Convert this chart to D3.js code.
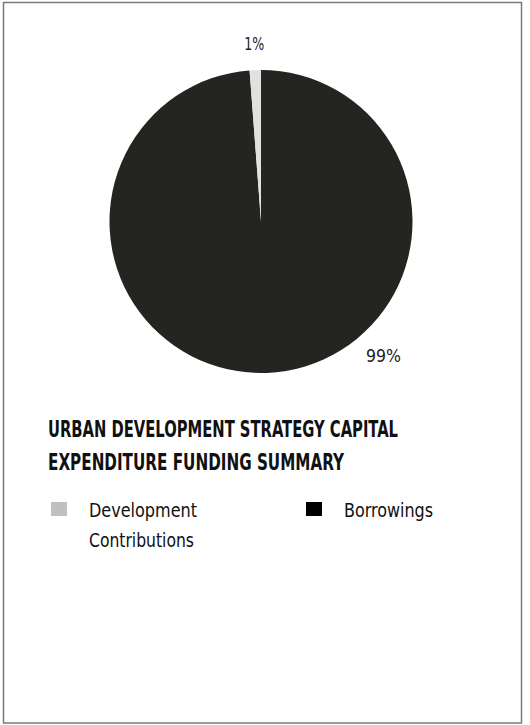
<!DOCTYPE html>
<html>
<head>
<meta charset="utf-8">
<script src="https://cdn.jsdelivr.net/npm/d3@7"></script>
<style>
  html, body { margin: 0; padding: 0; background: #fff; }
  svg { display: block; }
  text { font-family: 'DejaVu Sans Condensed', 'DejaVu Sans', sans-serif; font-stretch: condensed; }
</style>
</head>
<body>
<svg id="chart" width="530" height="725"></svg>
<script>
// ---- data ----
const categories = ["Borrowings", "Development Contributions"];
const values = [98.8, 1.2];
const valueLabels = ["99%", "1%"];
const legendOrder = ["Development Contributions", "Borrowings"];
const legendLabels = [["Development", "Contributions"], ["Borrowings"]];
const titleLines = ["URBAN DEVELOPMENT STRATEGY CAPITAL", "EXPENDITURE FUNDING SUMMARY"];

// ---- styles / layout ----
const sliceColors = { "Borrowings": "#242420", "Development Contributions": "#e1e1e1" };
const legendColors = { "Borrowings": "#000000", "Development Contributions": "#c0c0c0" };
const labelAngleOffset = { "Borrowings": -0.70, "Development Contributions": 0 };
const labelR = { "Borrowings": 182, "Development Contributions": 178 };
const labelWidth = { "Borrowings": 35, "Development Contributions": 20 };
const titleWidths = [350, 296];
const legendWidths = { "Development": 108, "Contributions": 105, "Borrowings": 89 };

const svg = d3.select("#chart");

svg.append("rect")
  .attr("x", 3.5).attr("y", 2.5)
  .attr("width", 518).attr("height", 720.5)
  .attr("fill", "none").attr("stroke", "#7a7a7a").attr("stroke-width", 1.5);

const cx = 261, cy = 221.5, radius = 151.5;

const data = categories.map((c, i) => ({ cat: c, value: values[i], label: valueLabels[i] }));
const pie = d3.pie().sort(null).value(d => d.value);
const arc = d3.arc().innerRadius(0).outerRadius(radius);
const arcs = pie(data);

const g = svg.append("g").attr("transform", `translate(${cx},${cy})`);
g.selectAll("path.slice").data(arcs).enter().append("path")
  .attr("class", "slice")
  .attr("d", arc)
  .attr("fill", d => sliceColors[d.data.cat]);

g.selectAll("text.vlabel").data(arcs).enter().append("text")
  .attr("class", "vlabel")
  .attr("transform", d => {
    const a = (d.startAngle + d.endAngle) / 2 + labelAngleOffset[d.data.cat];
    const r = labelR[d.data.cat];
    return `translate(${Math.sin(a) * r},${-Math.cos(a) * r})`;
  })
  .attr("text-anchor", "middle")
  .attr("dy", "0.35em")
  .attr("font-size", 17.5)
  .attr("fill", "#222")
  .attr("textLength", d => labelWidth[d.data.cat])
  .attr("lengthAdjust", "spacingAndGlyphs")
  .text(d => d.data.label);

// title
const title = svg.append("text")
  .attr("font-weight", "bold")
  .attr("font-size", 22.5)
  .attr("fill", "#111");
title.selectAll("tspan").data(titleLines).enter().append("tspan")
  .attr("x", 48)
  .attr("y", (d, i) => 437 + i * 33)
  .attr("textLength", (d, i) => titleWidths[i])
  .attr("lengthAdjust", "spacingAndGlyphs")
  .text(d => d);

// legend
const legendX = d3.scalePoint().domain(legendOrder).range([51, 306]);
const lg = svg.selectAll("g.leg").data(legendOrder).enter().append("g")
  .attr("class", "leg")
  .attr("transform", d => `translate(${legendX(d)},502)`);
lg.append("rect")
  .attr("width", 16).attr("height", 14)
  .attr("fill", d => legendColors[d]);
lg.each(function(d, k) {
  const t = d3.select(this).append("text")
    .attr("font-size", 20)
    .attr("fill", "#111");
  t.selectAll("tspan").data(legendLabels[k]).enter().append("tspan")
    .attr("x", 38)
    .attr("y", (s, i) => 14.5 + i * 30)
    .attr("textLength", s => legendWidths[s])
    .attr("lengthAdjust", "spacingAndGlyphs")
    .text(s => s);
});
</script>
</body>
</html>
